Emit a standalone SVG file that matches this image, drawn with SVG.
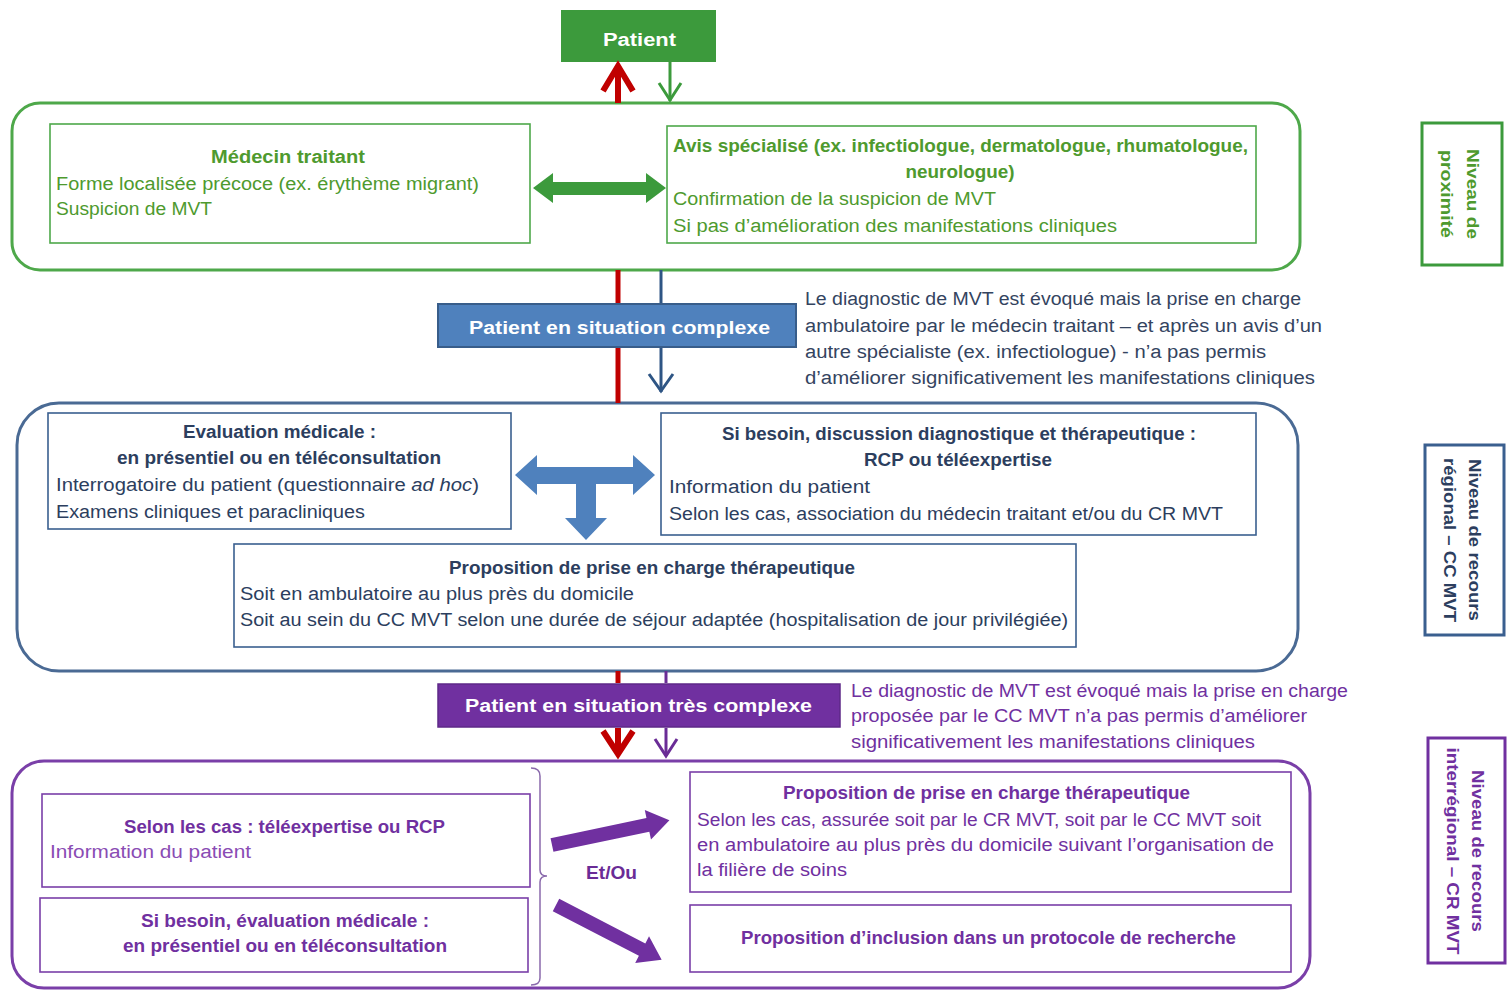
<svg xmlns="http://www.w3.org/2000/svg" width="1507" height="990" viewBox="0 0 1507 990">
<style>
text{font-family:"Liberation Sans",Arial,sans-serif;font-size:18px;}
.b{font-weight:bold;}
.c{text-anchor:middle;}
.g{fill:#4e9a2e;}
.bl{fill:#2c3e5e;}
.pu{fill:#7030a0;}
.w{fill:#ffffff;}
.in{fill:#ffffff;stroke-width:1.6;}
.big{fill:#ffffff;stroke-width:3;}
.lvl{fill:#ffffff;stroke-width:3;}
.vt{font-size:17px;font-weight:bold;text-anchor:middle;}
</style>
<rect width="1507" height="990" fill="#ffffff"/>

<g id="patient">
<rect x="561" y="10" width="155" height="52" fill="#3c9a3c"/>
<text x="639.5" y="46" class="b c w" font-size="20" textLength="73" lengthAdjust="spacingAndGlyphs">Patient</text>
</g>

<g id="niveau-proximite">
<rect x="1422" y="123" width="80" height="142" class="lvl" stroke="#3c9a3c"/>
<g transform="translate(1462,194) rotate(90)">
<text x="0" y="-5" class="vt g" textLength="90" lengthAdjust="spacingAndGlyphs">Niveau de</text>
<text x="0" y="21" class="vt g" textLength="88" lengthAdjust="spacingAndGlyphs">proximité</text>
</g>
</g>

<g id="niveau-regional">
<rect x="1425" y="445" width="79" height="190" class="lvl" stroke="#3a5f8f"/>
<g transform="translate(1464,540) rotate(90)">
<text x="0" y="-5" class="vt bl" textLength="162" lengthAdjust="spacingAndGlyphs">Niveau de recours</text>
<text x="0" y="20" class="vt bl" textLength="164" lengthAdjust="spacingAndGlyphs">régional – CC MVT</text>
</g>
</g>

<g id="niveau-interregional">
<rect x="1428" y="738" width="77" height="225" class="lvl" stroke="#7030a0"/>
<g transform="translate(1466,851) rotate(90)">
<text x="0" y="-6" class="vt pu" textLength="162" lengthAdjust="spacingAndGlyphs">Niveau de recours</text>
<text x="0" y="19" class="vt pu" textLength="207" lengthAdjust="spacingAndGlyphs">interrégional – CR MVT</text>
</g>
</g>

<g id="niveau1">
<rect x="12" y="103" width="1288" height="167" rx="28" class="big" stroke="#4ea84a"/>
</g>

<g id="medecin-traitant">
<rect x="50" y="124" width="480" height="119" class="in" stroke="#4ea84a"/>
<text x="288" y="163" class="b c g" textLength="154" lengthAdjust="spacingAndGlyphs">Médecin traitant</text>
<text x="56" y="190" class="g" textLength="423" lengthAdjust="spacingAndGlyphs">Forme localisée précoce (ex. érythème migrant)</text>
<text x="56" y="215" class="g" textLength="156" lengthAdjust="spacingAndGlyphs">Suspicion de MVT</text>
</g>

<g id="avis-specialise">
<rect x="667" y="126" width="589" height="117" class="in" stroke="#4ea84a"/>
<text x="673" y="152" class="b g" textLength="575" lengthAdjust="spacingAndGlyphs">Avis spécialisé (ex. infectiologue, dermatologue, rhumatologue,</text>
<text x="960" y="178" class="b c g" textLength="109" lengthAdjust="spacingAndGlyphs">neurologue)</text>
<text x="673" y="205" class="g" textLength="323" lengthAdjust="spacingAndGlyphs">Confirmation de la suspicion de MVT</text>
<text x="673" y="232" class="g" textLength="444" lengthAdjust="spacingAndGlyphs">Si pas d’amélioration des manifestations cliniques</text>
</g>

<g id="situation-complexe">
<rect x="438" y="304" width="358" height="43" fill="#4f81bd" stroke="#385d8a" stroke-width="2"/>
<text x="619.5" y="334" class="b c w" textLength="301" lengthAdjust="spacingAndGlyphs">Patient en situation complexe</text>
</g>

<g id="note-complexe">
<text x="805" y="305" fill="#34445f" textLength="496" lengthAdjust="spacingAndGlyphs">Le diagnostic de MVT est évoqué mais la prise en charge</text>
<text x="805" y="332" fill="#34445f" textLength="517" lengthAdjust="spacingAndGlyphs">ambulatoire par le médecin traitant – et après un avis d’un</text>
<text x="805" y="358" fill="#34445f" textLength="461" lengthAdjust="spacingAndGlyphs">autre spécialiste (ex. infectiologue) -  n’a pas permis</text>
<text x="805" y="384" fill="#34445f" textLength="510" lengthAdjust="spacingAndGlyphs">d’améliorer significativement les manifestations cliniques</text>
</g>

<g id="niveau2">
<rect x="17" y="403" width="1281" height="268" rx="42" class="big" stroke="#4a6a94"/>
</g>

<g id="evaluation-medicale">
<rect x="48" y="413" width="463" height="116" class="in" stroke="#3a5f8f"/>
<text x="279.5" y="438" class="b c bl" textLength="193" lengthAdjust="spacingAndGlyphs">Evaluation médicale :</text>
<text x="279" y="464" class="b c bl" textLength="324" lengthAdjust="spacingAndGlyphs">en présentiel ou en téléconsultation</text>
<text x="56" y="491" class="bl" textLength="423" lengthAdjust="spacingAndGlyphs">Interrogatoire du patient (questionnaire <tspan font-style="italic">ad hoc</tspan>)</text>
<text x="56" y="518" class="bl" textLength="309" lengthAdjust="spacingAndGlyphs">Examens cliniques et paracliniques</text>
</g>

<g id="discussion">
<rect x="661" y="413" width="595" height="122" class="in" stroke="#3a5f8f"/>
<text x="959" y="440" class="b c bl" textLength="474" lengthAdjust="spacingAndGlyphs">Si besoin, discussion diagnostique et thérapeutique :</text>
<text x="958" y="466" class="b c bl" textLength="188" lengthAdjust="spacingAndGlyphs">RCP ou téléexpertise</text>
<text x="669" y="493" class="bl" textLength="201" lengthAdjust="spacingAndGlyphs">Information du patient</text>
<text x="669" y="520" class="bl" textLength="554" lengthAdjust="spacingAndGlyphs">Selon les cas, association du médecin traitant et/ou du CR MVT</text>
</g>

<g id="proposition-cc">
<rect x="234" y="544" width="842" height="103" class="in" stroke="#3a5f8f"/>
<text x="652" y="574" class="b c bl" textLength="406" lengthAdjust="spacingAndGlyphs">Proposition de prise en charge thérapeutique</text>
<text x="240" y="600" class="bl" textLength="394" lengthAdjust="spacingAndGlyphs">Soit en ambulatoire au plus près du domicile</text>
<text x="240" y="626" class="bl" textLength="828" lengthAdjust="spacingAndGlyphs">Soit au sein du CC MVT selon une durée de séjour adaptée (hospitalisation de jour privilégiée)</text>
</g>

<g id="situation-tres-complexe">
<rect x="438" y="684" width="402" height="43" fill="#7030a0" stroke="#5e2888" stroke-width="1.5"/>
<text x="638.5" y="712" class="b c w" textLength="347" lengthAdjust="spacingAndGlyphs">Patient en situation très complexe</text>
</g>

<g id="note-tres-complexe">
<text x="851" y="697" class="pu" textLength="497" lengthAdjust="spacingAndGlyphs">Le diagnostic de MVT est évoqué mais la prise en charge</text>
<text x="851" y="722" class="pu" textLength="456" lengthAdjust="spacingAndGlyphs">proposée par le CC MVT n’a pas permis d’améliorer</text>
<text x="851" y="748" class="pu" textLength="404" lengthAdjust="spacingAndGlyphs">significativement les manifestations cliniques</text>
</g>

<g id="niveau3">
<rect x="12" y="761" width="1298" height="227" rx="32" class="big" stroke="#7a3fa8"/>
</g>

<g id="teleexpertise-rcp">
<rect x="42" y="794" width="488" height="93" class="in" stroke="#7a3fa8"/>
<text x="284.5" y="833" class="c pu" font-weight="bold" textLength="321" lengthAdjust="spacingAndGlyphs">Selon les cas : téléexpertise ou RCP</text>
<text x="50" y="858" fill="#8a4cb4" font-size="16" textLength="201" lengthAdjust="spacingAndGlyphs">Information du patient</text>
</g>

<g id="evaluation-cr">
<rect x="40" y="898" width="488" height="74" class="in" stroke="#7a3fa8"/>
<text x="285" y="927" class="c pu" font-weight="bold" textLength="288" lengthAdjust="spacingAndGlyphs">Si besoin, évaluation médicale :</text>
<text x="285" y="952" class="c pu" font-weight="bold" font-size="17" textLength="324" lengthAdjust="spacingAndGlyphs">en présentiel ou en téléconsultation</text>
</g>

<g id="proposition-cr">
<rect x="690" y="772" width="601" height="120" class="in" stroke="#7a3fa8"/>
<text x="986.5" y="799" class="b c pu" textLength="407" lengthAdjust="spacingAndGlyphs">Proposition de prise en charge thérapeutique</text>
<text x="697" y="826" class="pu" textLength="564" lengthAdjust="spacingAndGlyphs">Selon les cas, assurée soit par le CR MVT, soit par le CC MVT soit</text>
<text x="697" y="851" class="pu" textLength="577" lengthAdjust="spacingAndGlyphs">en ambulatoire au plus près du domicile suivant l’organisation de</text>
<text x="697" y="876" class="pu" textLength="150" lengthAdjust="spacingAndGlyphs">la filière de soins</text>
</g>

<g id="protocole-recherche">
<rect x="690" y="905" width="601" height="67" class="in" stroke="#7a3fa8"/>
<text x="988.5" y="944" class="b c pu" textLength="495" lengthAdjust="spacingAndGlyphs">Proposition d’inclusion dans un protocole de recherche</text>
</g>

<g id="connectors">
<!-- red bidirectional -->
<g stroke="#c00000" fill="none">
<line x1="618" y1="66" x2="618" y2="103" stroke-width="6"/>
<polyline points="603,91 618,66 633,91" stroke-width="6" stroke-linejoin="miter"/>
<line x1="618" y1="270" x2="618" y2="303" stroke-width="5"/>
<line x1="618" y1="348" x2="618" y2="403" stroke-width="5"/>
<line x1="618" y1="671" x2="618" y2="683" stroke-width="5"/>
<line x1="618" y1="728" x2="618" y2="754" stroke-width="6"/>
<polyline points="603,731 618,754 633,731" stroke-width="6" stroke-linejoin="miter"/>
</g>
<!-- green down -->
<g stroke="#3c9a3c" fill="none" stroke-width="3">
<line x1="670" y1="62" x2="670" y2="101"/>
<polyline points="659,83 670,100 681,83"/>
</g>
<!-- blue down -->
<g stroke="#2e5584" fill="none" stroke-width="3">
<line x1="661" y1="270" x2="661" y2="303"/>
<line x1="661" y1="348" x2="661" y2="392"/>
<polyline points="649,374 661,391 673,374"/>
</g>
<!-- purple down -->
<g stroke="#6a2c96" fill="none" stroke-width="3">
<line x1="666" y1="671" x2="666" y2="683"/>
<line x1="666" y1="728" x2="666" y2="756"/>
<polyline points="655,739 666,756 677,739"/>
</g>
<!-- green double arrow -->
<polygon points="533,188 553,173 553,182 646,182 646,173 666,188 646,203 646,195 553,195 553,203" fill="#3c9a3c"/>
<!-- blue T arrow -->
<polygon points="515,475 537,455 537,467 633,467 633,455 655,475 633,495 633,484 596,484 596,518 607,518 586,540 565,518 576,518 576,484 537,484 537,495" fill="#4f81bd"/>
<!-- purple fat arrows -->
<g fill="#7030a0">
<polygon transform="translate(552,845) rotate(-11.9)" points="0,-7 98,-7 98,-15 120,0 98,15 98,7 0,7"/>
<polygon transform="translate(556,905) rotate(27.4)" points="0,-7 97,-7 97,-15 119,0 97,15 97,7 0,7"/>
</g>
<!-- bracket -->
<path d="M531,768 Q540,768 540,776 L540,870 Q540,876 547,876 Q540,876 540,882 L540,978 Q540,985 531,985" fill="none" stroke="#8a6aac" stroke-width="1.5"/>
</g>

<g id="et-ou">
<text x="611.5" y="879" class="c" font-weight="bold" font-size="17" fill="#6a2c96" textLength="51" lengthAdjust="spacingAndGlyphs">Et/Ou</text>
</g>
</svg>
